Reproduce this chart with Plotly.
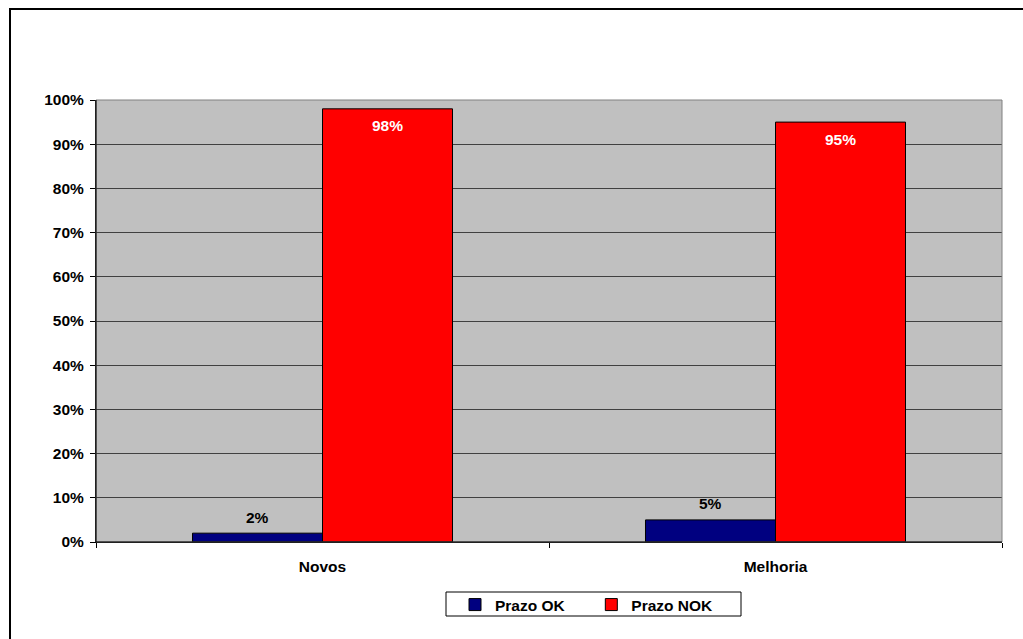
import plotly.graph_objects as go

categories = ["Novos", "Melhoria"]
prazo_ok = [2, 5]
prazo_nok = [98, 95]
y_ticks = [0, 10, 20, 30, 40, 50, 60, 70, 80, 90, 100]
y_tick_labels = [f"{v}%" for v in y_ticks]

W, H = 1023, 639
L, R, T, B = 96, 21, 100, 97
pw, ph = W - L - R, H - T - B

FAM = "Liberation Sans, Arial, sans-serif"
FS = 15.5
font = dict(family=FAM, size=FS, color="black")


def px_x(p):
    return (p - L) / pw


def px_y(p):
    return (H - B - p) / ph


fig = go.Figure()
fig.add_trace(go.Bar(
    name="<b>Prazo OK</b>" + "&nbsp;" * 5, x=categories, y=prazo_ok,
    marker=dict(color="#000080", line=dict(color="black", width=1)),
    offsetgroup="ok",
))
fig.add_trace(go.Bar(
    name="<b>Prazo NOK</b>", x=categories, y=prazo_nok,
    marker=dict(color="#FF0000", line=dict(color="black", width=1)),
    offsetgroup="nok",
))

bar_w = 130 / (pw / 2)  # bar width in category units (for label placement)
for i, v in enumerate(prazo_ok):
    fig.add_annotation(x=i - bar_w / 2, y=v, xref="x", yref="y",
                       text=f"<b>{v}%</b>", showarrow=False, yshift=16,
                       font=dict(family=FAM, size=FS, color="black"))
for i, v in enumerate(prazo_nok):
    fig.add_annotation(x=i + bar_w / 2, y=v, xref="x", yref="y",
                       text=f"<b>{v}%</b>", showarrow=False, yshift=-17,
                       font=dict(family=FAM, size=FS, color="white"))

# outer chart border (right and bottom edges lie outside the picture)
fig.add_shape(type="rect", xref="paper", yref="paper",
              x0=px_x(10), x1=px_x(1040), y0=px_y(660), y1=px_y(9),
              line=dict(color="black", width=2), layer="below")
# legend frame
fig.add_shape(type="rect", xref="paper", yref="paper",
              x0=px_x(446), x1=px_x(741), y0=px_y(616), y1=px_y(592),
              line=dict(color="black", width=1), fillcolor="white", layer="below")

fig.update_layout(
    width=W, height=H,
    margin=dict(l=L, r=R, t=T, b=B),
    paper_bgcolor="white", plot_bgcolor="#C0C0C0",
    barmode="group", bargap=0.426, bargroupgap=0,
    font=font,
    showlegend=True,
    legend=dict(orientation="h", x=px_x(455), xanchor="left",
                y=px_y(588), yanchor="top",
                borderwidth=0, bgcolor="rgba(0,0,0,0)",
                font=dict(family=FAM, size=FS, color="black"),
                itemwidth=30, traceorder="normal"),
)
fig.update_xaxes(
    showline=True, linecolor="black", linewidth=1,
    ticks="outside", tickson="boundaries", ticklen=5, tickcolor="black",
    tickfont=dict(family=FAM, size=FS, color="black"),
    tickvals=list(range(len(categories))),
    ticktext=[f"<b>{c}</b>" for c in categories],
    ticklabelstandoff=10,
    showgrid=False,
)
fig.update_yaxes(
    range=[0, 100], tickvals=y_ticks,
    ticktext=[f"<b>{t}</b>" for t in y_tick_labels],
    showline=True, linecolor="black", linewidth=1,
    ticks="outside", ticklen=5, tickcolor="black",
    ticklabelstandoff=3,
    showgrid=True, gridcolor="#404040", gridwidth=1,
    tickfont=dict(family=FAM, size=FS, color="black"),
    zeroline=False,
)
fig.add_shape(type="rect", xref="paper", yref="paper", x0=0, x1=1, y0=0, y1=1,
              line=dict(color="#808080", width=1), layer="above")
fig.add_shape(type="line", xref="paper", yref="paper", x0=0, x1=1, y0=0, y1=0,
              line=dict(color="black", width=1), layer="above")
fig.add_shape(type="line", xref="paper", yref="paper", x0=0, x1=0, y0=0, y1=1,
              line=dict(color="black", width=1), layer="above")

fig.write_html("out.html")
